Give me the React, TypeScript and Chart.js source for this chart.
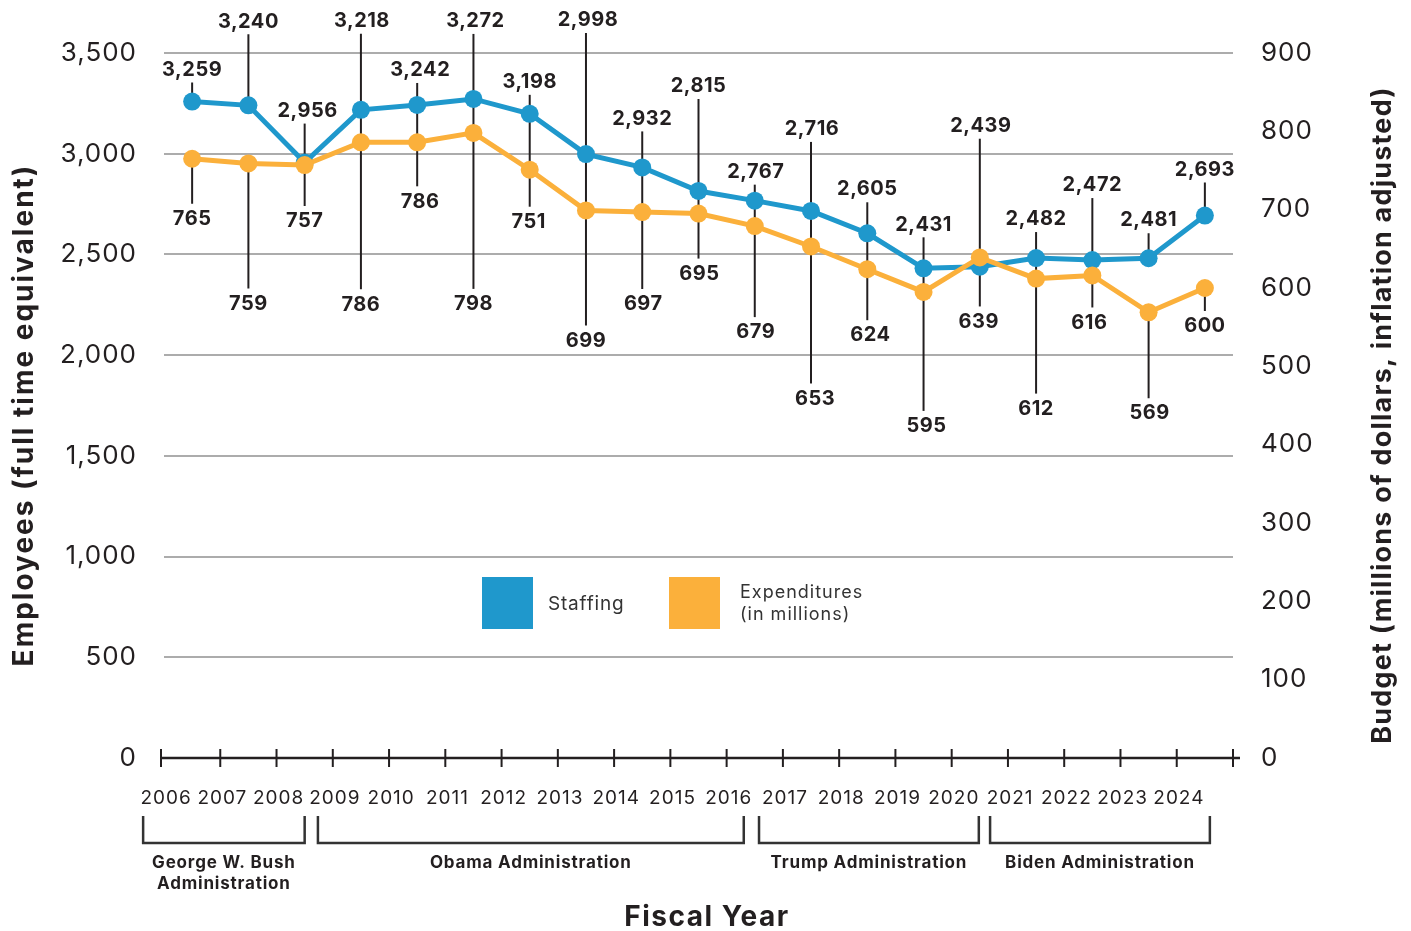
import React, { useEffect, useRef } from "react";
import { Chart, registerables } from "chart.js";

Chart.register(...registerables);

// ---------- data ----------
const years = [
  "2006", "2007", "2008", "2009", "2010", "2011", "2012", "2013", "2014", "2015",
  "2016", "2017", "2018", "2019", "2020", "2021", "2022", "2023", "2024",
];
const staffing = [
  3259, 3240, 2956, 3218, 3242, 3272, 3198, 2998, 2932, 2815,
  2767, 2716, 2605, 2431, 2439, 2482, 2472, 2481, 2693,
];
const expenditures = [
  765, 759, 757, 786, 786, 798, 751, 699, 697, 695,
  679, 653, 624, 595, 639, 612, 616, 569, 600,
];
const leftAxis = { min: 0, max: 3500, step: 500 };
const rightAxis = { min: 0, max: 900, step: 100 };
const administrations = [
  { name: ["George W. Bush", "Administration"], first: "2006", last: "2008" },
  { name: ["Obama Administration"], first: "2009", last: "2016" },
  { name: ["Trump Administration"], first: "2017", last: "2020" },
  { name: ["Biden Administration"], first: "2021", last: "2024" },
];
const seriesNames = { staffing: ["Staffing"], expenditures: ["Expenditures", "(in millions)"] };

// ---------- layout (pixel offsets of callout labels, not data) ----------
const staffLabelDy = [-33, -85, -53, -90, -36, -79, -33, -135, -50, -106, -30, -83, -45, -45, -142, -40, -76, -39, -47];
const staffLabelDx = [0, 0, 3, 1, 3, 2, 0, 2, 0, 0, 1, 1, 0, 0, 1, 0, 0, 0, 0];
const expLabelDy = [59, 139, 55, 161, 58, 170, 51, 129, 91, 59, 105, 151, 65, 133, 63, 129, 46, 100, 37];
const expLabelDx = [0, 0, 0, 0, 3, 0, -1, 0, 1, 1, 1, 4, 3, 3, -1, 0, -3, 1, 0];
const connectLeaders = [0, 0, 1, 1, 1, 1, 1, 1, 1, 1, 1, 1, 1, 1, 1, 1, 1, 0, 0];
const bracketDx = [
  [-49, 0],
  [-43, -11],
  [-52, -1],
  [-46, 5],
];

const BLUE = "#1f98cc";
const ORANGE = "#fbb03b";
const INK = "#231f20";
const FONT = "Inter, 'Open Sans', sans-serif";

const fmt = (v: number) => v.toLocaleString("en-US");

const spacingPlugin = {
  id: "spacing",
  beforeDraw(chart: any) {
    (chart.ctx as any).letterSpacing = "1px";
  },
};

const overlayPlugin = {
  id: "overlay",
  beforeDatasetsDraw(chart: any) {
    const ctx = chart.ctx;
    const x = chart.scales.x;
    const y = chart.scales.y;
    const y2 = chart.scales.y2;
    ctx.save();
    ctx.strokeStyle = INK;
    ctx.lineWidth = 2;
    for (let i = 0; i < years.length; i++) {
      const px = x.getPixelForValue(i);
      const by = y.getPixelForValue(staffing[i]);
      const oy = y2.getPixelForValue(expenditures[i]);
      const topEnd = by + staffLabelDy[i] + 14;
      const botEnd = oy + expLabelDy[i] - 14;
      ctx.beginPath();
      if (connectLeaders[i]) {
        ctx.moveTo(px, topEnd);
        ctx.lineTo(px, botEnd);
      } else {
        ctx.moveTo(px, topEnd);
        ctx.lineTo(px, by);
        ctx.moveTo(px, oy);
        ctx.lineTo(px, botEnd);
      }
      ctx.stroke();
    }
    ctx.restore();
  },
  afterDatasetsDraw(chart: any) {
    const ctx = chart.ctx;
    const x = chart.scales.x;
    const y = chart.scales.y;
    const y2 = chart.scales.y2;
    ctx.save();
    ctx.fillStyle = INK;
    ctx.font = `700 20px ${FONT}`;
    (ctx as any).letterSpacing = "0.5px";
    ctx.textAlign = "center";
    ctx.textBaseline = "alphabetic";
    const capOff = 20 * 0.36;
    for (let i = 0; i < years.length; i++) {
      const px = x.getPixelForValue(i);
      const by = y.getPixelForValue(staffing[i]);
      const oy = y2.getPixelForValue(expenditures[i]);
      ctx.fillText(fmt(staffing[i]), px + staffLabelDx[i], by + staffLabelDy[i] + capOff);
      ctx.fillText(fmt(expenditures[i]), px + expLabelDx[i], oy + expLabelDy[i] + capOff);
    }
    ctx.restore();
  },
  afterDraw(chart: any) {
    const ctx = chart.ctx;
    const x = chart.scales.x;
    const area = chart.chartArea;
    const n = years.length;
    const step = (x.getPixelForValue(n - 1) - x.getPixelForValue(0)) / (n - 1);
    const ax = area.bottom;
    ctx.save();
    // x axis line with tick marks
    ctx.strokeStyle = INK;
    ctx.lineWidth = 2.5;
    ctx.beginPath();
    ctx.moveTo(area.left - 4, ax);
    ctx.lineTo(area.right + 7, ax);
    ctx.stroke();
    ctx.lineWidth = 2;
    ctx.beginPath();
    for (let i = 0; i <= n; i++) {
      let tx = x.getPixelForValue(0) - step / 2 + i * step;
      if (i === 0) tx -= 3;
      ctx.moveTo(tx, ax - 9);
      ctx.lineTo(tx, ax + 9);
    }
    ctx.stroke();

    // administration brackets
    ctx.lineWidth = 2.5;
    ctx.strokeStyle = "#333333";
    ctx.fillStyle = INK;
    ctx.textAlign = "center";
    ctx.textBaseline = "middle";
    ctx.font = `700 17px ${FONT}`;
    (ctx as any).letterSpacing = "0.8px";
    administrations.forEach((a, k) => {
      const x0 = x.getPixelForValue(years.indexOf(a.first)) + bracketDx[k][0];
      const x1 = x.getPixelForValue(years.indexOf(a.last)) + bracketDx[k][1];
      ctx.beginPath();
      ctx.moveTo(x0, ax + 58);
      ctx.lineTo(x0, ax + 85);
      ctx.lineTo(x1, ax + 85);
      ctx.lineTo(x1, ax + 58);
      ctx.stroke();
      a.name.forEach((line, j) => {
        ctx.fillText(line, (x0 + x1) / 2, ax + 105 + j * 21);
      });
    });

    // axis titles
    ctx.font = `700 28px ${FONT}`;
    (ctx as any).letterSpacing = "1.5px";
    ctx.fillText("Fiscal Year", 707, 918);
    ctx.save();
    ctx.translate(25, 415);
    ctx.rotate(-Math.PI / 2);
    ctx.font = `700 28px ${FONT}`;
    (ctx as any).letterSpacing = "2px";
    ctx.fillText("Employees (full time equivalent)", 0, 0);
    ctx.restore();
    ctx.save();
    ctx.translate(1383, 415);
    ctx.rotate(-Math.PI / 2);
    ctx.font = `700 27px ${FONT}`;
    (ctx as any).letterSpacing = "1.2px";
    ctx.fillText("Budget (millions of dollars, inflation adjusted)", 0, 0);
    ctx.restore();

    // legend
    ctx.fillStyle = BLUE;
    ctx.fillRect(482, 577, 51, 52);
    ctx.fillStyle = ORANGE;
    ctx.fillRect(669, 577, 51, 52);
    ctx.fillStyle = "#333333";
    ctx.textAlign = "left";
    (ctx as any).letterSpacing = "0.8px";
    ctx.font = `400 19px ${FONT}`;
    ctx.fillText(seriesNames.staffing[0], 548, 604);
    ctx.font = `400 18px ${FONT}`;
    (ctx as any).letterSpacing = "1px";
    ctx.fillText(seriesNames.expenditures[0], 740, 593);
    ctx.fillText(seriesNames.expenditures[1], 740, 615);
    ctx.restore();
  },
};

export default function App() {
  const ref = useRef<HTMLCanvasElement | null>(null);
  useEffect(() => {
    if (!ref.current) return;
    const chart = new Chart(ref.current, {
      type: "line",
      data: {
        labels: years,
        datasets: [
          {
            label: "Expenditures (in millions)",
            data: expenditures,
            yAxisID: "y2",
            borderColor: ORANGE,
            backgroundColor: ORANGE,
            borderWidth: 5,
            pointRadius: 9,
            pointBorderWidth: 0,
            pointBackgroundColor: ORANGE,
            tension: 0,
            order: 0,
          },
          {
            label: "Staffing",
            data: staffing,
            yAxisID: "y",
            borderColor: BLUE,
            backgroundColor: BLUE,
            borderWidth: 5,
            pointRadius: 9,
            pointBorderWidth: 0,
            pointBackgroundColor: BLUE,
            tension: 0,
            order: 1,
          },
        ],
      },
      options: {
        responsive: false,
        animation: false,
        layout: { padding: { top: 53, left: 0, right: 0, bottom: 0 } },
        plugins: { legend: { display: false }, tooltip: { enabled: false } },
        scales: {
          x: {
            type: "category",
            offset: true,
            grid: { display: false, offset: true },
            border: { display: false },
            ticks: {
              autoSkip: false,
              maxRotation: 0,
              padding: 21,
              labelOffset: -26,
              color: INK,
              font: { family: FONT, size: 19 },
            },
            afterFit: (s: any) => {
              s.height = 173;
            },
          },
          y: {
            position: "left",
            min: leftAxis.min,
            max: leftAxis.max,
            ticks: {
              stepSize: leftAxis.step,
              padding: 27,
              color: INK,
              font: { family: FONT, size: 26 },
            },
            grid: {
              drawTicks: false,
              lineWidth: 2,
              color: (c: any) => (c.tick && c.tick.value === 0 ? "rgba(0,0,0,0)" : "#acacac"),
            },
            border: { display: false },
            afterFit: (s: any) => {
              s.width = 164;
            },
          },
          y2: {
            position: "right",
            min: rightAxis.min,
            max: rightAxis.max,
            ticks: {
              stepSize: rightAxis.step,
              padding: 28,
              color: INK,
              font: { family: FONT, size: 26 },
            },
            grid: { display: false, drawTicks: false },
            border: { display: false },
            afterFit: (s: any) => {
              s.width = 178;
            },
          },
        },
      },
      plugins: [spacingPlugin, overlayPlugin],
    });
    return () => chart.destroy();
  }, []);
  return (
    <div style={{ position: "absolute", left: 0, top: 0, width: 1411, height: 931, background: "#fff" }}>
      <canvas ref={ref} width={1411} height={931} />
    </div>
  );
}
